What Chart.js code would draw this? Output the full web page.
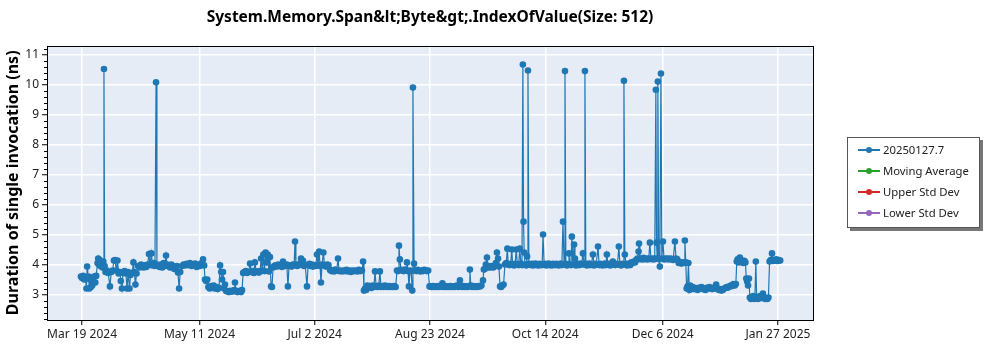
<!DOCTYPE html>
<html>
<head>
<meta charset="utf-8">
<script src="https://cdn.jsdelivr.net/npm/chart.js@4.4.1/dist/chart.umd.min.js"></script>
<style>
  html, body { margin: 0; padding: 0; background: #fff; }
  #wrap { position: relative; width: 1000px; height: 350px; }
  #legend { position: absolute; left: 847px; top: 137px; width: 133px; height: 91px;
    border: 1px solid #555; background: #fff; box-shadow: 3px 3px 0 #777;
    font-family: "Noto Sans", sans-serif; font-size: 11.3px; color: #222; box-sizing: border-box; }
  .item { position: absolute; left: 0; height: 16px; line-height: 16px; white-space: nowrap; }
  .sw { position: absolute; left: 10px; top: 7px; width: 22px; height: 1.5px; }
  .dot { position: absolute; left: 8px; top: -2.5px; width: 6px; height: 6px; border-radius: 50%; }
  .lbl { position: absolute; left: 35px; top: 0; }
</style>
</head>
<body>
<div id="wrap">
  <canvas id="c" width="1000" height="350"></canvas>
  <div id="legend"></div>
</div>
<script>
const chartTitle = 'System.Memory.Span&lt;Byte&gt;.IndexOfValue(Size: 512)';
const yTitle = 'Duration of single invocation (ns)';
const tickDays = [0, 53, 105, 157, 209, 262, 314];
const tickLabels = ['Mar 19 2024', 'May 11 2024', 'Jul 2 2024', 'Aug 23 2024', 'Oct 14 2024', 'Dec 6 2024', 'Jan 27 2025'];
const yTicks = [3, 4, 5, 6, 7, 8, 9, 10, 11];
const seriesNames = ['20250127.7', 'Moving Average', 'Upper Std Dev', 'Lower Std Dev'];
const seriesColors = ['#1f77b4', '#2ca02c', '#d62728', '#9467bd'];

// [day offset from Mar 19 2024, duration ns]
const samplesSpring = [
[-0.5,3.6],[0,3.55],[0.5,3.62],[1,3.5],[1.5,3.58],[2,3.2],[2.3,3.93],[2.6,3.55],[3,3.6],[3.3,3.2],[3.6,3.5],[4,3.25],[4.3,3.55],[4.6,3.3],[5,3.45],[5.5,3.6],[6,3.4],[6.4,3.62],[7,4.05],[7.3,4.2],[7.6,4.0],[8,4.15],[8.3,3.95],[8.7,4.05],[9.2,3.9],[9.6,4.1],[9.9,10.52],[10.2,3.95],[10.6,3.75],[11.2,3.8],[11.8,3.72],[12.6,3.27],[13.2,3.75],[13.8,3.8],[14.4,4.13],[14.9,4.15],[15.5,3.8],[16,4.13],[16.5,3.7],[17.1,3.75],[17.5,3.45],[18,3.2],[18.5,3.72],[19.2,3.78],[19.8,3.7],[20.3,3.2],[20.8,3.75],[21.4,3.2],[21.9,3.65],[22.6,3.72],[23.2,4.07],[23.6,3.75],[24.1,3.33],[24.6,3.7],[25.3,3.95],[26,3.9],[26.6,4.0],[27.2,3.95],[27.8,3.9],[28.4,3.97],[29,3.92],[29.6,4.0],[30.2,4.35],[30.7,4.0],[31.3,4.37],[31.8,3.97],[32.4,4.05],[32.9,3.95],[33.4,10.08],[33.8,4.0],[34.3,3.95],[35,3.92],[35.6,4.0],[36.2,3.9],[36.8,4.05],[37.4,3.95],[37.9,4.3],[38.4,4.0],[39,3.95],[39.7,3.9],[40.3,4.0],[41,3.95],[41.6,3.85],[42.2,3.9],[42.8,3.95],[43.3,3.73],[43.8,3.2],[44.3,3.75],[45.1,3.95],[45.8,4.0],[46.5,3.97],[47.2,4.02],[47.9,3.98],[48.7,4.05],[49.4,3.95],[50.2,4.0],[51,4.03],[51.7,3.92],[52.4,4.0],[53.2,3.95],[54,4.05],[54.6,4.17],[55.1,3.97],[55.5,3.5],[56,3.45],[56.5,3.5],[57,3.25],[57.6,3.2],[58.2,3.28],[58.8,3.22],[59.4,3.3],[60,3.2],[60.6,3.25],[61.2,3.18],[61.8,3.22],[62.3,3.97],[62.8,3.75],[63.2,3.5],[63.6,3.75],[64.1,3.2],[64.5,3.33],[65,3.12],[65.6,3.1],[66.2,3.08],[66.8,3.12],[67.4,3.1],[68,3.1],[68.6,3.15],[69,3.4],[69.5,3.12],[70.1,3.08],[70.7,3.1],[71.3,3.12],[71.8,3.08],[72.2,3.15],[72.7,3.72],[73.3,3.75],[73.9,3.78],[74.5,3.72],[75.2,3.75],[75.8,4.03],[76.4,3.75],[77,3.78],[77.5,3.72],[78,4.07],[78.6,3.75],[79.2,3.77],[79.8,3.73],[80.3,3.77]
];
const samplesSummer = [
[80.8,4.2],[81.3,3.8],[81.8,4.33],[82.3,3.78],[82.8,4.4],[83.3,4.07],[83.8,4.33],[84.3,3.77],[84.8,4.25],[85.3,3.27],[85.7,3.25],[86.2,3.9],[86.7,3.95],[87.3,3.97],[87.9,3.93],[88.5,4.0],[89.1,3.95],[89.6,3.97],[90.2,3.92],[90.7,4.1],[91.2,3.97],[91.8,3.95],[92.4,4.0],[92.9,3.27],[93.4,3.95],[94,3.97],[94.6,3.93],[95.2,4.0],[95.7,3.98],[96.1,4.77],[96.5,4.0],[97.1,3.95],[97.6,3.98],[98.3,4.02],[98.8,4.2],[99.3,3.98],[99.7,4.12],[100.2,3.95],[100.7,3.98],[101.5,3.27],[102,3.98],[102.6,4.02],[103.1,3.95],[103.7,4.0],[104.2,3.93],[104.8,3.98],[105.4,3.95],[106,4.33],[106.5,3.98],[107,4.43],[107.4,3.95],[107.8,3.4],[108.3,4.0],[108.9,4.4],[109.4,3.98],[110,3.93],[110.6,4.0],[111.2,3.98],[111.9,3.82],[112.5,3.78],[113.1,3.8],[113.7,3.77],[114.3,3.83],[114.9,3.8],[115.5,4.2],[116,3.78],[116.6,3.8],[117.3,3.77],[118,3.8],[118.6,3.78],[119.3,3.82],[120,3.77],[120.7,3.8],[121.4,3.75],[122.1,3.8],[122.8,3.78],[123.5,3.8],[124.2,3.77],[124.9,3.82],[125.6,3.78],[126.3,3.8],[126.8,4.1],[127.2,3.13],[127.7,3.2],[128.2,3.15],[128.7,3.3],[129.3,3.25],[129.9,3.28],[130.5,3.22],[131.1,3.3],[131.7,3.25],[132.2,3.77],[132.7,3.27],[133.3,3.25],[133.9,3.3],[134.4,3.77],[134.9,3.25],[135.5,3.28],[136.1,3.25],[136.7,3.3],[137.3,3.27],[137.9,3.25],[138.5,3.28],[139.1,3.25],[139.7,3.27],[140.3,3.25],[140.9,3.28],[141.5,3.25],[142.1,3.8],[142.6,3.78],[143,4.63],[143.4,4.17],[143.9,3.82],[144.5,3.8],[145.1,3.78],[145.7,3.83],[146.2,3.8],[146.6,4.07],[147.1,3.78],[147.5,3.27],[148,3.8],[148.5,3.78],[149,3.13],[149.3,9.9],[149.8,4.03],[150.2,3.8],[150.8,3.78],[151.4,3.82],[152,3.8],[152.6,3.77],[153.2,3.8],[153.8,3.78],[154.4,3.82],[155,3.8],[155.6,3.78],[156.2,3.8]
];
const samplesAutumn = [
[156.8,3.27],[157.2,3.27],[157.8,3.25],[158.4,3.28],[159,3.25],[159.6,3.27],[160.2,3.25],[160.8,3.28],[161.4,3.25],[162,3.27],[162.6,3.37],[163.2,3.25],[163.8,3.28],[164.4,3.25],[165,3.27],[165.6,3.25],[166.2,3.28],[166.8,3.25],[167.4,3.27],[168,3.25],[168.6,3.28],[169.2,3.3],[169.8,3.25],[170.5,3.47],[171,3.27],[171.6,3.25],[172.2,3.28],[172.8,3.25],[173.4,3.27],[174,3.25],[174.6,3.28],[175,3.83],[175.4,3.3],[176,3.25],[176.6,3.28],[177.2,3.25],[177.8,3.27],[178.4,3.25],[179,3.28],[179.6,3.27],[180.2,3.3],[180.9,3.47],[181.3,3.83],[181.7,3.85],[182.2,4.0],[182.7,4.23],[183.1,3.9],[183.6,3.93],[184.1,3.9],[184.6,3.95],[185.1,3.92],[185.6,3.9],[186.1,3.95],[186.7,4.05],[187.2,4.4],[187.7,4.2],[188.1,3.93],[188.6,3.27],[189.1,3.25],[189.6,3.3],[190.2,3.33],[190.8,4.0],
[191.4,4.05],[191.9,4.53],[192.3,4.0],[192.9,3.98],[193.4,4.02],[193.9,4.5],[194.3,4.0],[194.9,3.97],[195.4,4.02],[195.9,4.5],[196.4,4.0],[197,3.98],[197.5,4.53],[198,4.03],[198.5,3.98],[198.9,10.67],[199.2,5.43],[199.5,4.4],[199.9,4.0],[200.4,3.97],[200.8,4.27],[201.2,10.47],[201.6,4.02],[202.1,4.0],[202.6,3.98],[203.1,4.02],[203.6,3.97],[204.1,4.0],[204.6,4.03],[205.1,3.98],[205.6,4.0],[206.1,3.97],[206.6,4.02],[207.2,4.0],[207.6,3.98],[208,5.0],[208.5,4.0],[209,4.02],[209.5,3.97],[210,4.0],[210.5,4.03],[211,3.98],[211.5,4.0],[212,3.97],[212.5,4.02],[213,4.0],[213.5,3.98],[214,4.02],[214.5,4.0],[215,3.97],[215.5,4.0],[216,4.03],[216.5,3.98],[217,5.43],[217.5,4.0],[217.9,10.45],[218.3,4.02],[218.8,3.97],[219.3,4.0],[219.7,4.37],[220.1,4.0],[220.6,3.98],[221,4.93],[221.5,4.0],[222,4.67],[222.4,4.2],[222.9,3.97],[223.4,4.02],[223.9,4.0],[224.4,3.98],[224.9,4.03],[225.4,4.0],[226,4.37],[226.5,4.0],[226.9,10.45],[227.3,4.02],[227.8,3.97],[228.3,4.0],[228.8,4.03],[229.3,3.98],[229.8,4.0],[230.5,4.33],[231,3.97],[231.5,4.02],[232,4.0],[232.8,4.6],[233.3,3.98],[233.8,4.02],[234.3,4.0],[234.8,3.97],[235.3,4.0],[235.8,4.03],[236.3,3.98],[236.8,4.33],[237.3,4.0],[237.8,4.02],[238.3,3.97],[238.8,4.0],[239.5,4.1],[240,4.0],[240.5,3.98],[241,4.02],[241.6,4.0],[242.2,4.6],[242.7,4.0],[243.2,3.97],[243.7,4.02],[244.1,4.0],[244.5,10.13],[244.9,4.33],[245.4,4.02],[245.9,3.97],[246.4,4.0],[246.9,4.03],[247.4,3.98],[247.9,4.07],[248.4,4.05],[249,4.1],[249.5,4.07]
];
const samplesWinter = [
[250,4.15],[250.6,4.2],[251.1,4.43],[251.3,4.7],[251.7,4.18],[252.2,4.2],[252.8,4.17],[253.3,4.22],[253.9,4.18],[254.5,4.2],[255.1,4.17],[255.7,4.2],[256.2,4.73],[256.7,4.18],[257.3,4.2],[257.9,4.17],[258.4,4.2],[258.9,9.83],[259.2,4.73],[259.5,4.2],[259.8,10.1],[260.2,4.18],[260.7,3.93],[261.2,10.37],[261.6,4.2],[262.1,4.77],[262.6,4.17],[263.1,4.2],[263.7,4.18],[264.3,4.2],[264.9,4.17],[265.5,4.2],[266.1,4.18],[266.7,4.15],[267.5,4.77],[268,4.2],[268.6,4.17],[269.2,4.05],[269.8,4.07],[270.4,4.03],[271,4.07],[271.6,4.05],[272,4.8],[272.4,4.07],[272.8,3.2],[273.2,3.27],[273.6,4.05],[274,3.15],[274.4,3.3],[274.9,3.2],[275.4,3.25],
[275.9,3.18],[276.5,3.22],[277.1,3.2],[277.7,3.15],[278.3,3.22],[278.9,3.2],[279.5,3.25],[280.1,3.18],[280.7,3.2],[281.3,3.15],[281.9,3.22],[282.5,3.2],[283.1,3.25],[283.7,3.2],[284.3,3.18],[284.9,3.22],[285.5,3.2],[286.1,3.33],[286.7,3.2],[287.3,3.15],[287.9,3.18],[288.5,3.13],[289.1,3.15],[289.7,3.2],[290.3,3.22],[290.9,3.25],[291.5,3.23],[292.1,3.27],[292.7,3.3],[293.3,3.28],[293.9,3.35],[294.5,3.3],[295,3.35],[295.4,4.1],[295.8,4.17],[296.3,4.07],[296.8,4.23],[297.3,4.1],[297.8,4.13],[298.3,4.05],[298.8,4.12],[299.3,4.07],[299.7,3.53],[300.1,3.43],[300.5,3.3],[300.9,3.53],[301.3,2.9],[301.8,2.85],[302.3,2.88],[302.8,2.95],[303.2,2.85],[303.6,2.9],[304,4.1],[304.4,2.88],[304.9,2.85],[305.4,2.9],[305.9,2.95],[306.4,2.88],[307.2,3.03],[307.7,2.9],[308.2,2.85],[308.7,2.88],[309.2,2.85],[309.7,2.9],[310.2,4.1],[310.7,4.15],[311.3,4.37],[311.7,4.12],[312.2,4.15],[312.7,4.13],[313.2,4.17],[313.7,4.12],[314.4,4.15],[315,4.13]
];

const mainData = [...samplesSpring, ...samplesSummer, ...samplesAutumn, ...samplesWinter].map(p => ({x: p[0], y: p[1]}));

const datasets = seriesNames.map((name, i) => ({
  label: name,
  data: i === 0 ? mainData : [],
  borderColor: seriesColors[i],
  backgroundColor: seriesColors[i],
  borderWidth: 1.2,
  pointRadius: 3.3,
  pointBorderWidth: 0,
  pointHoverRadius: 3.3,
  showLine: true,
  tension: 0
}));

const FONT = '"Noto Sans", "DejaVu Sans", sans-serif';

const framePlugin = {
  id: 'frame',
  beforeDraw(chart) {
    const a = chart.chartArea, ctx = chart.ctx;
    ctx.save();
    ctx.fillStyle = '#e5ecf6';
    ctx.fillRect(a.left, a.top, a.right - a.left, a.bottom - a.top);
    ctx.restore();
  },
  afterDraw(chart) {
    const a = chart.chartArea, ctx = chart.ctx, ys = chart.scales.y;
    ctx.save();
    ctx.strokeStyle = '#000';
    ctx.lineWidth = 1;
    ctx.strokeRect(Math.round(a.left) + 0.5, Math.round(a.top) + 0.5, Math.round(a.right - a.left), Math.round(a.bottom - a.top));
    ctx.beginPath();
    for (let k = Math.ceil(ys.min * 5); k <= Math.floor(ys.max * 5); k++) {
      if (k % 5 === 0) continue;
      const py = Math.round(ys.getPixelForValue(k / 5)) + 0.5;
      ctx.moveTo(a.left - 3, py);
      ctx.lineTo(a.left, py);
    }
    ctx.stroke();
    ctx.restore();
  }
};

const chart = new Chart(document.getElementById('c'), {
  type: 'scatter',
  data: { datasets },
  plugins: [framePlugin],
  options: {
    responsive: false,
    animation: false,
    layout: { padding: { left: 0, right: 187, top: 0, bottom: 0 } },
    plugins: {
      legend: { display: false },
      tooltip: { enabled: false },
      title: {
        display: true, text: chartTitle, fullSize: false, color: '#000',
        font: { family: FONT, size: 15.5, weight: 'bold', lineHeight: 1.2 },
        padding: { top: 8, bottom: 19 }
      }
    },
    scales: {
      x: {
        type: 'linear', min: -15.8, max: 329.8,
        afterBuildTicks(s) { s.ticks = tickDays.map(v => ({ value: v })); },
        afterFit(s) { s.height = 30; },
        ticks: {
          color: '#222', font: { family: FONT, size: 12 }, maxRotation: 0, padding: 2,
          callback(v) { const i = tickDays.indexOf(v); return i >= 0 ? tickLabels[i] : ''; }
        },
        grid: { color: '#ffffff', lineWidth: 1.5, tickColor: '#000', tickLength: 5, tickWidth: 1 },
        border: { display: false }
      },
      y: {
        type: 'linear', min: 2.15, max: 11.3,
        afterBuildTicks(s) { s.ticks = yTicks.map(v => ({ value: v })); },
        afterFit(s) { s.width = 47; },
        ticks: { color: '#222', font: { family: FONT, size: 12 }, padding: 3 },
        grid: { color: '#ffffff', lineWidth: 1.5, tickColor: '#000', tickLength: 5, tickWidth: 1 },
        border: { display: false },
        title: {
          display: true, text: yTitle, color: '#000',
          font: { family: FONT, size: 16, weight: 'bold', lineHeight: 1.2 },
          padding: { top: 4, bottom: 0 }
        }
      }
    }
  }
});

// HTML legend built from the chart's datasets
const legend = document.getElementById('legend');
chart.data.datasets.forEach((ds, i) => {
  const item = document.createElement('div');
  item.className = 'item';
  item.style.top = (4 + i * 21) + 'px';
  item.innerHTML = '<span class="sw" style="background:' + ds.borderColor + '"><span class="dot" style="background:' + ds.borderColor + '"></span></span><span class="lbl"></span>';
  item.querySelector('.lbl').textContent = ds.label;
  legend.appendChild(item);
});
</script>
</body>
</html>
